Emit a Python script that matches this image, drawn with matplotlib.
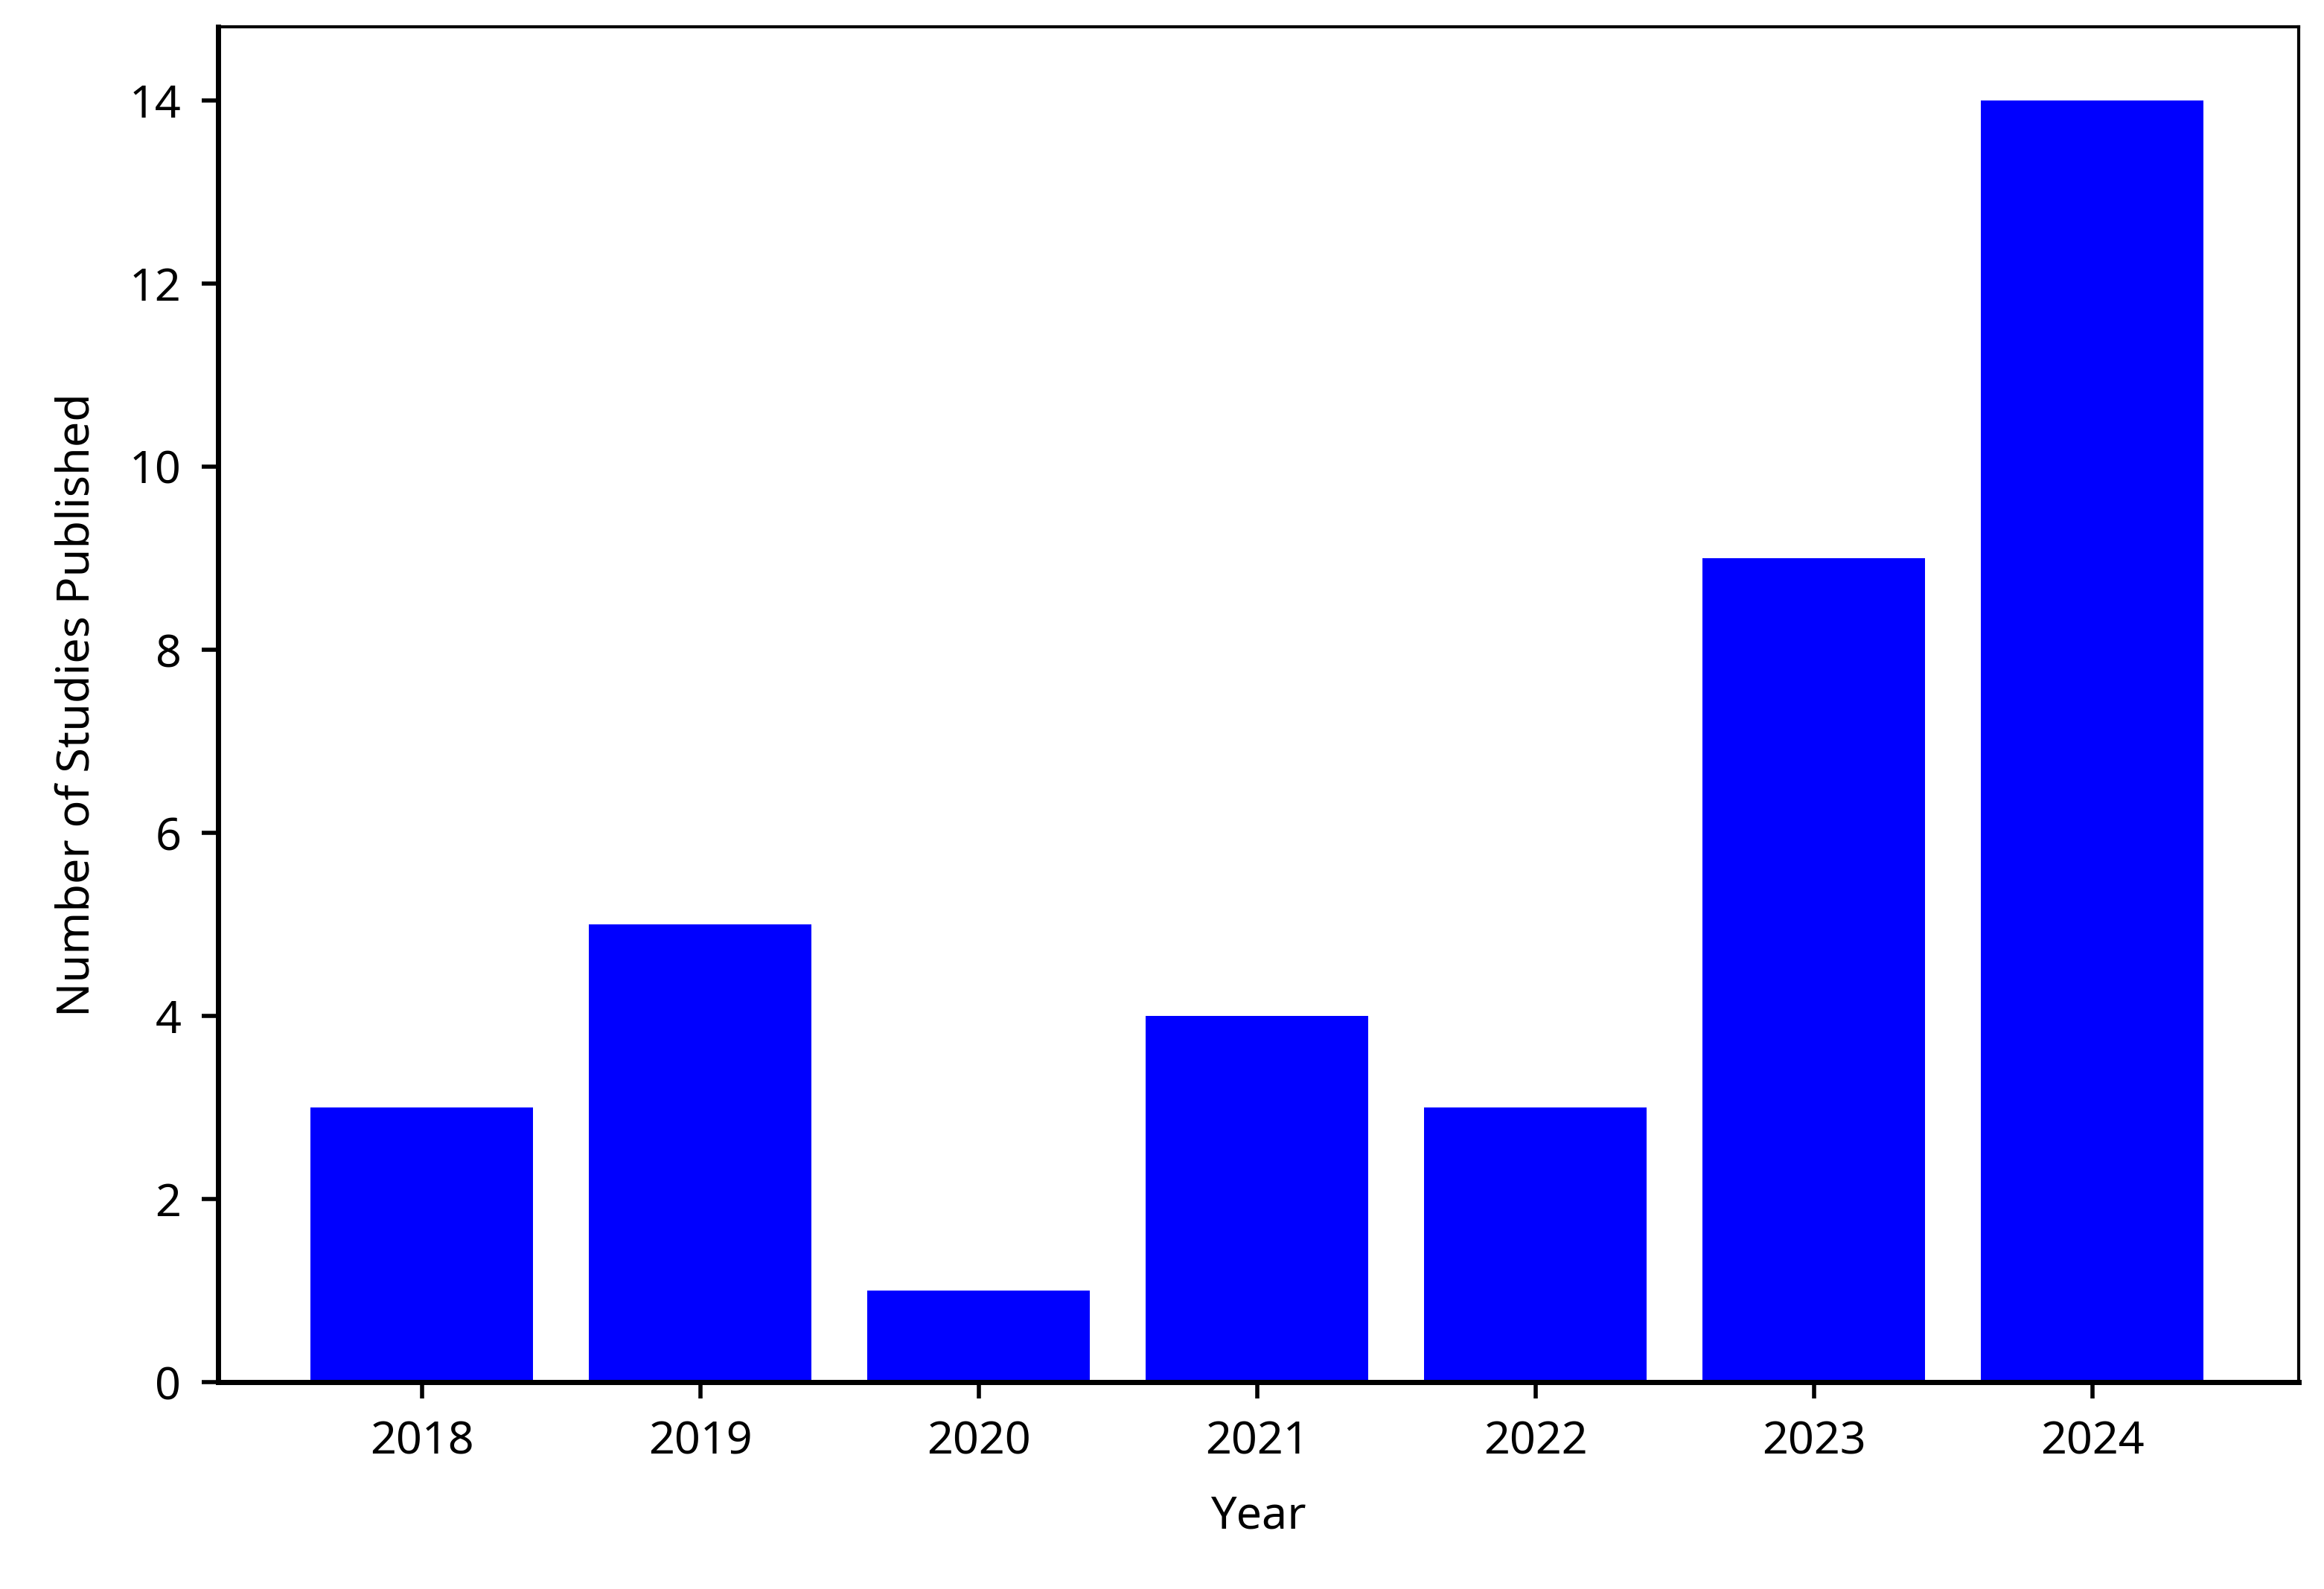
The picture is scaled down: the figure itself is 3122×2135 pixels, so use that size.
import matplotlib
matplotlib.use("Agg")
import matplotlib.pyplot as plt

years = ["2018", "2019", "2020", "2021", "2022", "2023", "2024"]
counts = [3, 5, 1, 4, 3, 9, 14]
yticks = [0, 2, 4, 6, 8, 10, 12, 14]

plt.rcParams["font.family"] = ["Noto Sans", "DejaVu Sans"]

fig = plt.figure(figsize=(15.61, 10.675), dpi=200)
ax = fig.add_axes([0.094, 0.13, 0.895, 0.853])
x = list(range(len(years)))
ax.bar(x, counts, width=0.8, color="#0000ff")
ax.set_xlim(-0.73, len(years) - 1 + 0.74)
ax.set_ylim(0, 14.8)
ax.set_xticks(x)
ax.set_xticklabels(years)
ax.set_yticks(yticks)
ax.tick_params(axis="both", direction="out", length=8, width=2, labelsize=22, pad=10)
for side in ["left", "bottom"]:
    ax.spines[side].set_linewidth(2.5)
for side in ["top", "right"]:
    ax.spines[side].set_linewidth(1.5)
ax.set_xlabel("Year", fontsize=22, labelpad=14)
ax.set_ylabel("Number of Studies Published", fontsize=22, labelpad=14)
fig.savefig("out.png", dpi=200, facecolor="white")
